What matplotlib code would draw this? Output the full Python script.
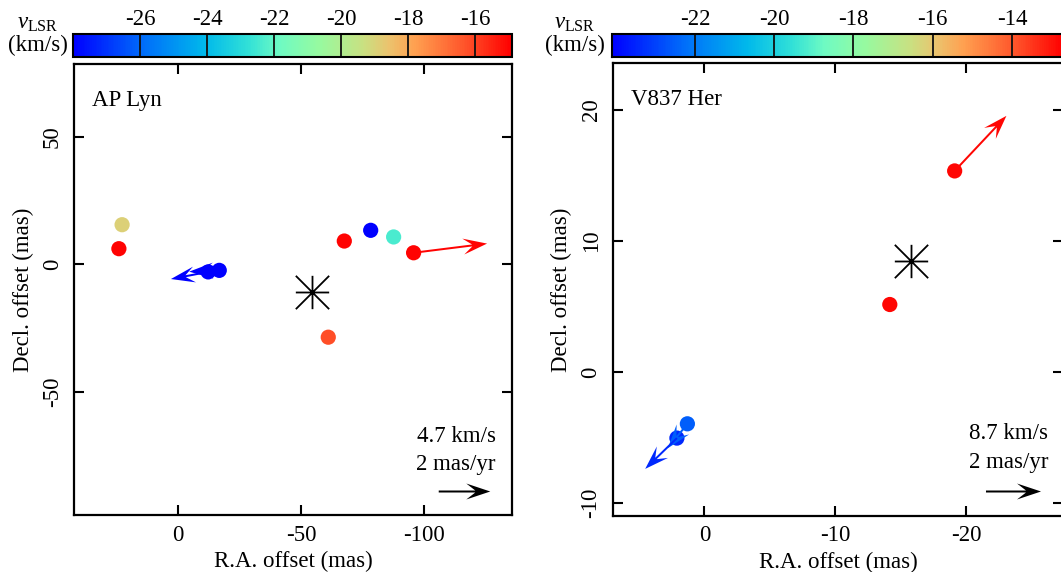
import numpy as np
import matplotlib
matplotlib.use('Agg')
import matplotlib.pyplot as plt
from matplotlib.colors import LinearSegmentedColormap, Normalize
from matplotlib.cm import ScalarMappable
from matplotlib.path import Path

plt.rcParams['font.family'] = ['Liberation Serif', 'DejaVu Serif']
plt.rcParams['mathtext.fontset'] = 'custom'
plt.rcParams['mathtext.rm'] = 'Liberation Serif'
plt.rcParams['mathtext.it'] = 'Liberation Serif:italic'
plt.rcParams['axes.unicode_minus'] = False

FS = 16.5

# ---------------- data ----------------
# AP Lyn
ap_ra = [22.5, 23.8, -12.4, -16.9, -67.6, -78.3, -87.6, -95.7, -61.1]
ap_dec = [15.5, 6.1, -3.0, -2.4, 9.1, 13.3, 10.7, 4.5, -28.6]
ap_vlsr = [-18.9, -15.0, -28.0, -28.0, -15.0, -28.0, -22.4, -15.0, -16.2]
ap_pm_idx = [2, 3, 7]
ap_pm_dx = [15.1, 12.2, -29.8]
ap_pm_dy = [-2.8, -0.5, 3.6]
ap_star = (-54.7, -10.7)
ap_vrange = (-28.0, -14.9)
ap_cticks = [-26, -24, -22, -20, -18, -16]
ap_xticks = [0, -50, -100]
ap_yticks = [-50, 0, 50]
ap_xlim = (42.0, -135.6)
ap_ylim = (-98.3, 78.5)
ap_scale_len = 20.9
ap_scale_text = ["4.7 km/s", "2 mas/yr"]

# V837 Her
vh_ra = [-19.1, -14.15, 1.30, 2.10]
vh_dec = [15.35, 5.16, -3.94, -5.03]
vh_vlsr = [-12.8, -12.8, -22.5, -23.4]
vh_pm_idx = [0, 2, 3]
vh_pm_dx = [-3.95, 1.49, 2.42]
vh_pm_dy = [4.2, -1.86, -2.35]
vh_star = (-15.73, 8.51)
vh_vrange = (-24.1, -12.7)
vh_cticks = [-22, -20, -18, -16, -14]
vh_xticks = [0, -10, -20]
vh_yticks = [-10, 0, 10, 20]
vh_xlim = (7.0, -27.4)
vh_ylim = (-10.95, 23.56)
vh_scale_len = 4.2
vh_scale_text = ["8.7 km/s", "2 mas/yr"]

# colormap
cm_nodes = [
    (0.00, (0, 0, 255)),
    (0.16, (0, 110, 250)),
    (0.30, (0, 185, 235)),
    (0.40, (50, 225, 215)),
    (0.47, (110, 250, 195)),
    (0.56, (150, 250, 160)),
    (0.66, (200, 225, 130)),
    (0.72, (235, 195, 110)),
    (0.78, (255, 160, 80)),
    (0.90, (255, 80, 40)),
    (1.00, (255, 0, 0)),
]
cmap = LinearSegmentedColormap.from_list(
    'vlsr', [(p, tuple(c / 255 for c in rgb)) for p, rgb in cm_nodes])

ast_path = Path([(-1, 0), (1, 0), (0, -1), (0, 1), (-1, -1), (1, 1), (-1, 1), (1, -1)],
                [Path.MOVETO, Path.LINETO] * 4)

W, H = 1061, 572
fig = plt.figure(figsize=(W / 100, H / 100), dpi=100)


def px_rect(x0, y0, x1, y1):
    return [x0 / W, 1 - y1 / H, (x1 - x0) / W, (y1 - y0) / H]


def panel(rect, crect, lab_x, ra, dec, vlsr, pm_idx, pm_dx, pm_dy, star, vrange,
          cticks, xticks, yticks, xlim, ylim, name, scale_len, scale_text,
          key_xy, txt_x, txt_y):
    ax = fig.add_axes(rect)
    norm = Normalize(vmin=vrange[0], vmax=vrange[1])
    cols = cmap(norm(np.array(vlsr)))
    ax.scatter(ra, dec, s=120, c=cols, edgecolors='none', zorder=3)
    ra_a = np.array(ra)
    dec_a = np.array(dec)
    q = ax.quiver(ra_a[pm_idx], dec_a[pm_idx], pm_dx, pm_dy, color=cols[pm_idx],
                  angles='xy', scale_units='xy', scale=1, units='dots',
                  width=2.0, headwidth=8, headlength=12, headaxislength=7.5, zorder=4)
    ax.plot([star[0]], [star[1]], marker=ast_path, markersize=24, color='k',
            markeredgewidth=1.3, linestyle='none', zorder=5)
    ax.set_xlim(*xlim)
    ax.set_ylim(*ylim)
    ax.set_xticks(xticks)
    ax.set_yticks(yticks)
    ax.tick_params(direction='in', length=7.5, width=1.5, top=True, right=True,
                   labelsize=FS, pad=7)
    ax.tick_params(axis='y', labelrotation=90, pad=8)
    for lbl in ax.get_yticklabels():
        lbl.set_va('center')
    for sp in ax.spines.values():
        sp.set_linewidth(1.6)
    ax.set_xlabel('R.A. offset (mas)', fontsize=FS, labelpad=4)
    ax.set_ylabel('Decl. offset (mas)', fontsize=FS, labelpad=6)
    ax.text(0.04, 0.92, name, transform=ax.transAxes, fontsize=FS,
            ha='left', va='center')
    ax.quiverkey(q, key_xy[0], key_xy[1], scale_len, '', coordinates='axes',
                 labelpos='N', color='k')
    ax.text(txt_x, txt_y[0], scale_text[0], transform=ax.transAxes, fontsize=FS,
            ha='right', va='center')
    ax.text(txt_x, txt_y[1], scale_text[1], transform=ax.transAxes, fontsize=FS,
            ha='right', va='center')

    cax = fig.add_axes(crect)
    cb = fig.colorbar(ScalarMappable(norm=norm, cmap=cmap), cax=cax,
                      orientation='horizontal', ticklocation='top')
    cb.set_ticks(cticks)
    cb.ax.tick_params(length=0, labelsize=FS, pad=3)
    cb.outline.set_linewidth(1.5)
    for t in cticks:
        cax.axvline(t, color='#111111', lw=1.3)
    fig.text(lab_x / W, 1 - 23 / H, r'$v_{\rm LSR}$', fontsize=FS, ha='center', va='center')
    fig.text(lab_x / W, 1 - 45 / H, '(km/s)', fontsize=FS, ha='center', va='center')
    return ax


panel(px_rect(74, 64, 512, 515), px_rect(73.3, 34, 511.7, 56.7), 38,
      ap_ra, ap_dec, ap_vlsr, ap_pm_idx, ap_pm_dx, ap_pm_dy, ap_star, ap_vrange,
      ap_cticks, ap_xticks, ap_yticks, ap_xlim, ap_ylim, 'AP Lyn',
      ap_scale_len, ap_scale_text, (0.890, 0.054), 0.9627, (0.1736, 0.1124))

panel(px_rect(612.7, 63.3, 1063.4, 515.7), px_rect(611.7, 34, 1063.4, 56.7), 575,
      vh_ra, vh_dec, vh_vlsr, vh_pm_idx, vh_pm_dx, vh_pm_dy, vh_star, vh_vrange,
      vh_cticks, vh_xticks, vh_yticks, vh_xlim, vh_ylim, 'V837 Her',
      vh_scale_len, vh_scale_text, (0.889, 0.0553), 0.9667, (0.1806, 0.1187))

fig.savefig('out.png', dpi=100)
